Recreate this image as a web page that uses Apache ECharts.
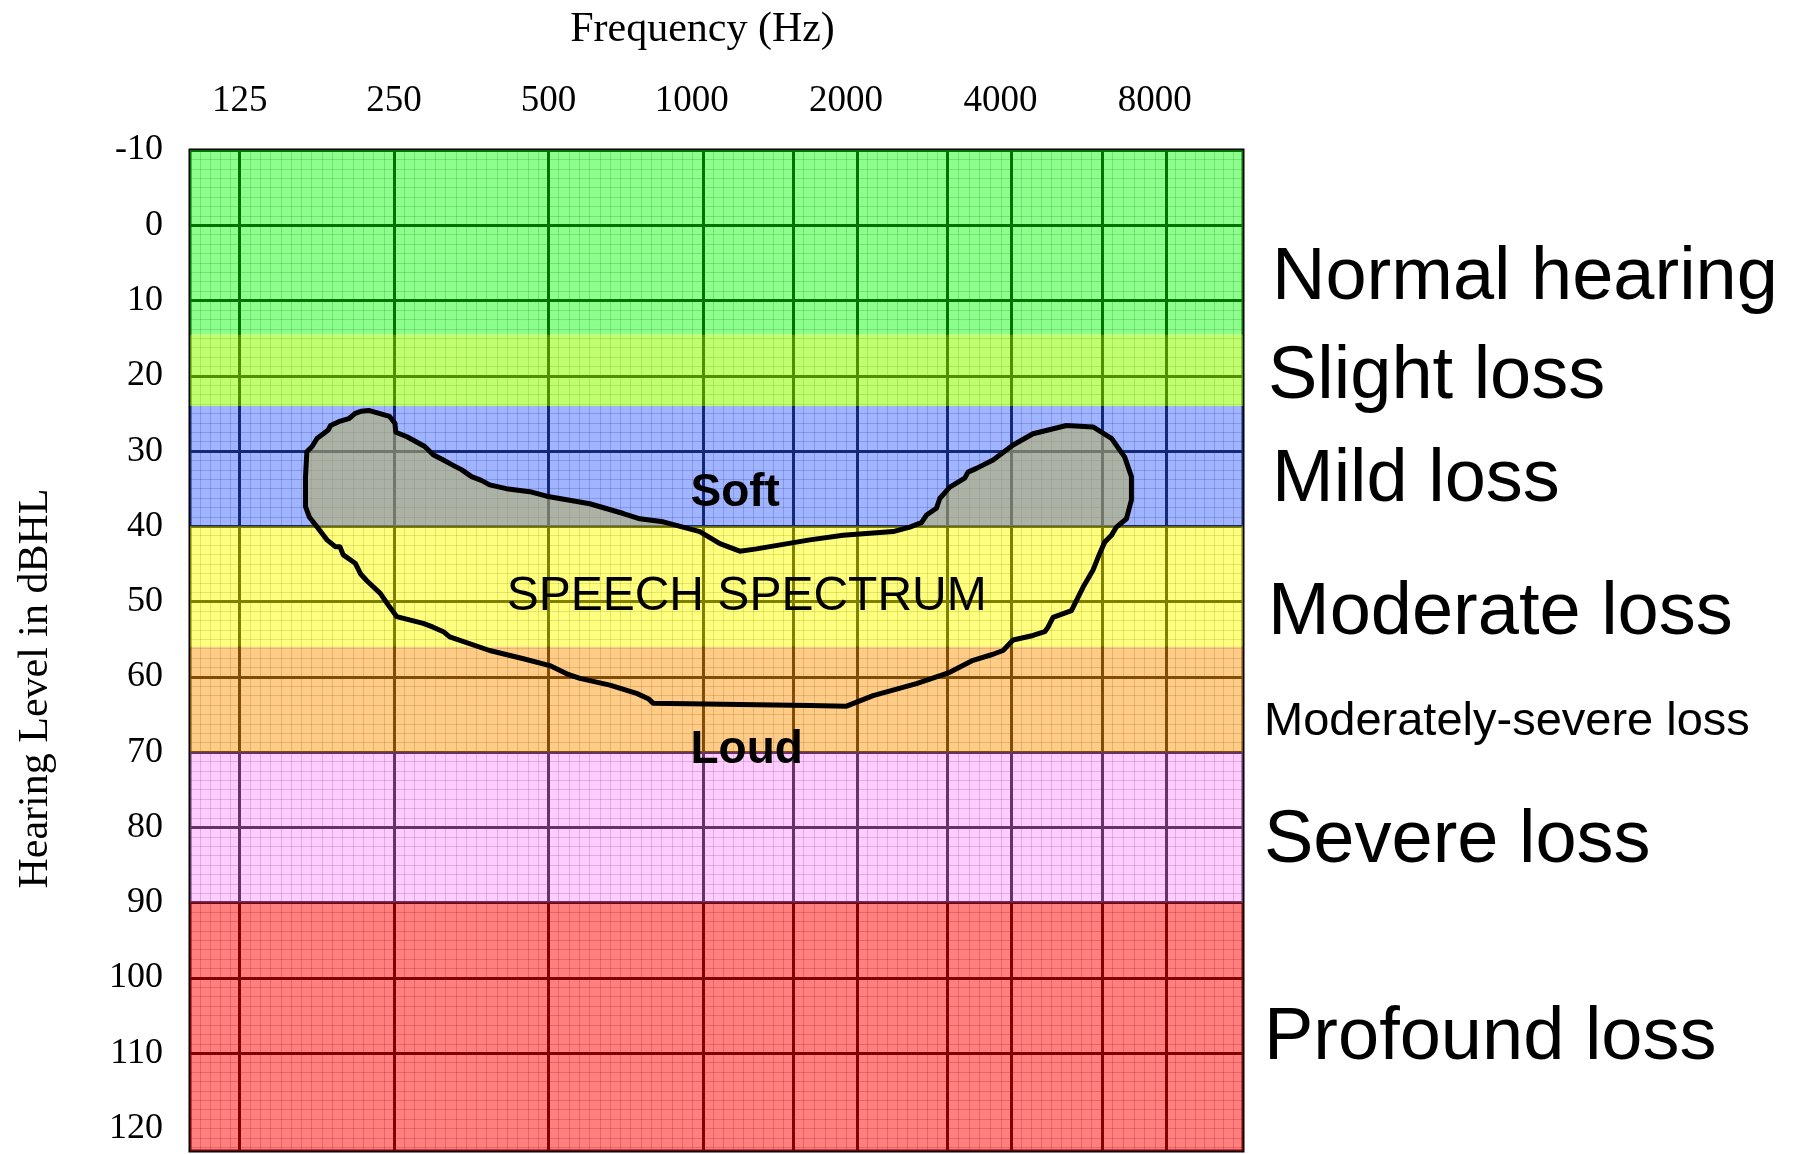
<!DOCTYPE html>
<html>
<head>
<meta charset="utf-8">
<script src="https://cdn.jsdelivr.net/npm/echarts@6/dist/echarts.min.js"></script>
<style>
html, body { margin: 0; padding: 0; background: #ffffff; }
#chart { width: 1796px; height: 1154px; }
</style>
</head>
<body>
<div id="chart"></div>
<script>
// ---------------- data ----------------
const FREQ_MIN = 100;
const FREQ_MAX = 11314;
const DB_MIN = -10;
const DB_MAX = 123;

const freqTicks = [125, 250, 500, 1000, 2000, 4000, 8000];
const freqGridLines = [125, 250, 500, 1000, 1500, 2000, 3000, 4000, 6000, 8000];
const dbTicks = [-10, 0, 10, 20, 30, 40, 50, 60, 70, 80, 90, 100, 110, 120];
const dbGridLines = [-10, 0, 10, 20, 30, 40, 50, 60, 70, 80, 90, 100, 110];

const bandNames = ['Normal hearing', 'Slight loss', 'Mild loss', 'Moderate loss',
  'Moderately-severe loss', 'Severe loss', 'Profound loss'];
const bandFrom = [-10, 14.5, 24, 40, 56, 70, 90];
const bandTo = [14.5, 24, 40, 56, 70, 90, 123];

const speechFreq = [223, 245, 251, 252, 265, 287, 298, 312, 326, 339,
  354, 370, 384, 414, 460, 496, 602, 700, 754, 837,
  987, 1080, 1181, 1273, 1617, 1878, 2351, 2534, 2670, 2731,
  2856, 2899, 3032, 3243, 3291, 3418, 3683, 4029, 4407, 5120,
  5770, 6266, 6652, 6855, 6855, 6703, 6408, 6266, 6080, 5945,
  5770, 5516, 5236, 4821, 4714, 4645, 4407, 4029, 3852, 3683,
  3366, 3032, 2611, 2149, 1907, 1617, 800, 783, 743, 659,
  576, 543, 503, 447, 384, 321, 312, 298, 285, 253,
  245, 235, 221, 215, 210, 199, 196, 192, 185, 177,
  171, 168, 168, 169, 173, 177, 182, 186, 188, 195,
  204, 210, 216];
const speechDb = [24.6, 25.4, 26.3, 27.5, 28.1, 29.4, 30.5, 31.2, 31.9, 32.5,
  33.4, 33.9, 34.5, 35.0, 35.4, 36.0, 37.0, 38.3, 39.0, 39.4,
  40.7, 42.3, 43.3, 43.0, 41.8, 41.2, 40.7, 40.1, 39.5, 38.5,
  37.6, 36.3, 34.8, 33.6, 32.8, 32.3, 31.2, 29.2, 27.7, 26.6,
  26.8, 28.3, 30.8, 33.4, 36.5, 39.0, 40.1, 41.2, 42.1, 43.6,
  45.8, 48.1, 51.2, 52.1, 53.4, 54.0, 54.5, 55.1, 56.5, 57.0,
  57.8, 59.4, 60.9, 62.5, 63.9, 63.8, 63.5, 62.9, 62.2, 61.1,
  60.2, 59.6, 58.5, 57.6, 56.5, 54.7, 54.0, 53.4, 52.9, 52.0,
  50.7, 48.9, 47.2, 46.3, 44.9, 43.8, 42.7, 42.7, 41.8, 40.1,
  38.8, 37.4, 33.4, 30.1, 29.4, 28.3, 27.7, 27.2, 26.6, 26.1,
  25.7, 25.0, 24.7];

const noteTexts = ['Soft', 'SPEECH SPECTRUM', 'Loud'];
const noteFreq = [1157, 1218, 1218];
const noteDb = [35.6, 49.3, 69.8];

// ---------------- styles ----------------
const bandColors = ['rgba(0,255,0,0.45)', 'rgba(142,255,0,0.56)', 'rgba(44,89,255,0.45)',
  'rgba(255,255,0,0.5)', 'rgba(255,153,17,0.5)', 'rgba(255,127,255,0.4)', 'rgba(255,0,0,0.5)'];
const bandLabelDx = [8, 4, 8, 4, 0, 0, 0];
const bandLabelDy = [36, 7, 14, 27, 23, 14, 12];
const bandLabelSize = [74, 74, 74, 74, 47, 74, 74];
const noteWeight = ['bold', 'normal', 'bold'];
const noteSize = [46, 48, 46];
const SERIF = '"Liberation Serif", "Times New Roman", serif';
const SANS = '"Liberation Sans", Arial, sans-serif';
const MINOR = 'rgba(0,0,0,0.2)';

// minor (fine) grid lines: even subdivisions in log space between main lines
const minorFreq = [];
(function () {
  const edges = [FREQ_MIN].concat(freqGridLines, [FREQ_MAX]);
  for (let i = 0; i < edges.length - 1; i++) {
    const a = edges[i], b = edges[i + 1];
    const oct = Math.log2(b / a);
    const n = Math.max(1, Math.round(oct * 15));
    for (let k = 1; k < n; k++) minorFreq.push(+(a * Math.pow(2, oct * k / n)).toFixed(3));
  }
})();

const chart = echarts.init(document.getElementById('chart'), null, { renderer: 'canvas' });

const option = {
  animation: false,
  backgroundColor: '#ffffff',
  grid: {
    left: 190, top: 150, right: 553, bottom: 3,
    show: true, backgroundColor: '#ffffff', borderColor: '#000000', borderWidth: 3,
    containLabel: false, outerBoundsMode: 'none'
  },
  xAxis: [{
    type: 'log', logBase: 2, min: FREQ_MIN, max: FREQ_MAX, position: 'top',
    axisLine: { show: false },
    axisTick: { show: false, customValues: freqGridLines },
    axisLabel: {
      customValues: freqTicks, margin: 30, color: '#000',
      fontFamily: SERIF, fontSize: 37,
      formatter: function (v) { return (v >= 1000 ? '{w|' : '{n|') + v + '}'; },
      rich: {
        n: { fontFamily: SERIF, fontSize: 37, color: '#000' },
        w: { fontFamily: SERIF, fontSize: 37, color: '#000', padding: [0, 22, 0, 0] }
      }
    },
    splitLine: { show: true, lineStyle: { color: '#000', width: 3 } },
    name: 'Frequency (Hz)', nameLocation: 'middle', nameGap: 99,
    nameTextStyle: { fontFamily: SERIF, fontSize: 42, color: '#000', padding: [0, 28, 0, 0] }
  }, {
    type: 'log', logBase: 2, min: FREQ_MIN, max: FREQ_MAX, position: 'bottom',
    axisLine: { show: false },
    axisTick: { show: false, customValues: minorFreq },
    axisLabel: { show: false },
    splitLine: { show: true, lineStyle: { color: MINOR, width: 1 } }
  }],
  yAxis: [{
    type: 'value', inverse: true, min: DB_MIN, max: DB_MAX, interval: 10, position: 'left',
    axisLine: { show: false },
    axisTick: { show: false, customValues: dbGridLines },
    axisLabel: {
      customValues: dbTicks, margin: 27, color: '#000',
      fontFamily: SERIF, fontSize: 36, padding: [0, 0, 6, 0]
    },
    splitLine: { show: true, lineStyle: { color: '#000', width: 3 } },
    name: 'Hearing Level in dBHL', nameLocation: 'middle', nameGap: 133, nameRotate: 90,
    nameTextStyle: { fontFamily: SERIF, fontSize: 42, color: '#000', padding: [0, 76, 0, 0] }
  }, {
    type: 'value', inverse: true, min: DB_MIN, max: DB_MAX, interval: 1.25, position: 'right',
    axisLine: { show: false }, axisTick: { show: false }, axisLabel: { show: false },
    splitLine: { show: true, lineStyle: { color: MINOR, width: 1 } }
  }],
  series: [{
    name: 'bands', type: 'line', z: 1, data: [], silent: true,
    xAxisIndex: 0, yAxisIndex: 0,
    markArea: {
      silent: true, z: 1,
      label: {
        show: true, position: 'right', distance: 21, color: '#000',
        fontFamily: SANS, fontSize: 74
      },
      data: bandNames.map(function (n, i) {
        return [{
          name: n, yAxis: bandFrom[i],
          itemStyle: { color: bandColors[i], borderWidth: 0 },
          label: { offset: [bandLabelDx[i], bandLabelDy[i]], fontSize: bandLabelSize[i] }
        }, { yAxis: bandTo[i] }];
      })
    }
  }, {
    name: 'speech spectrum', type: 'custom', z: 3, silent: true,
    xAxisIndex: 0, yAxisIndex: 0,
    encode: { x: 0, y: 1 },
    data: speechFreq.map(function (f, i) { return [f, speechDb[i]]; }),
    renderItem: function (params, api) {
      if (params.dataIndex !== 0) return null;
      const pts = speechFreq.map(function (f, i) { return api.coord([f, speechDb[i]]); });
      const yTop = api.coord([1000, DB_MIN])[1];
      const yMid = api.coord([1000, bandTo[2]])[1];
      const c = 'rgba(180,176,100,0.58)';
      return {
        type: 'polygon',
        shape: { points: pts },
        style: {
          fill: {
            type: 'linear', x: 0, y: yTop, x2: 0, y2: yMid, global: true,
            colorStops: [{ offset: 0, color: c }, { offset: 0.999, color: c }, { offset: 1, color: 'rgba(0,0,0,0)' }]
          },
          stroke: '#000', lineWidth: 5, lineJoin: 'round'
        }
      };
    }
  }, {
    name: 'notes', type: 'scatter', z: 10, silent: true,
    xAxisIndex: 0, yAxisIndex: 0,
    symbolSize: 0, itemStyle: { color: '#000', opacity: 1 },
    label: {
      show: true, position: 'inside', formatter: '{b}', color: '#000', opacity: 1,
      textBorderWidth: 0, fontFamily: SANS
    },
    data: noteTexts.map(function (t, i) {
      return { name: t, value: [noteFreq[i], noteDb[i]],
        label: { fontWeight: noteWeight[i], fontSize: noteSize[i], color: '#000' } };
    })
  }]
};

chart.setOption(option);
</script>
</body>
</html>
